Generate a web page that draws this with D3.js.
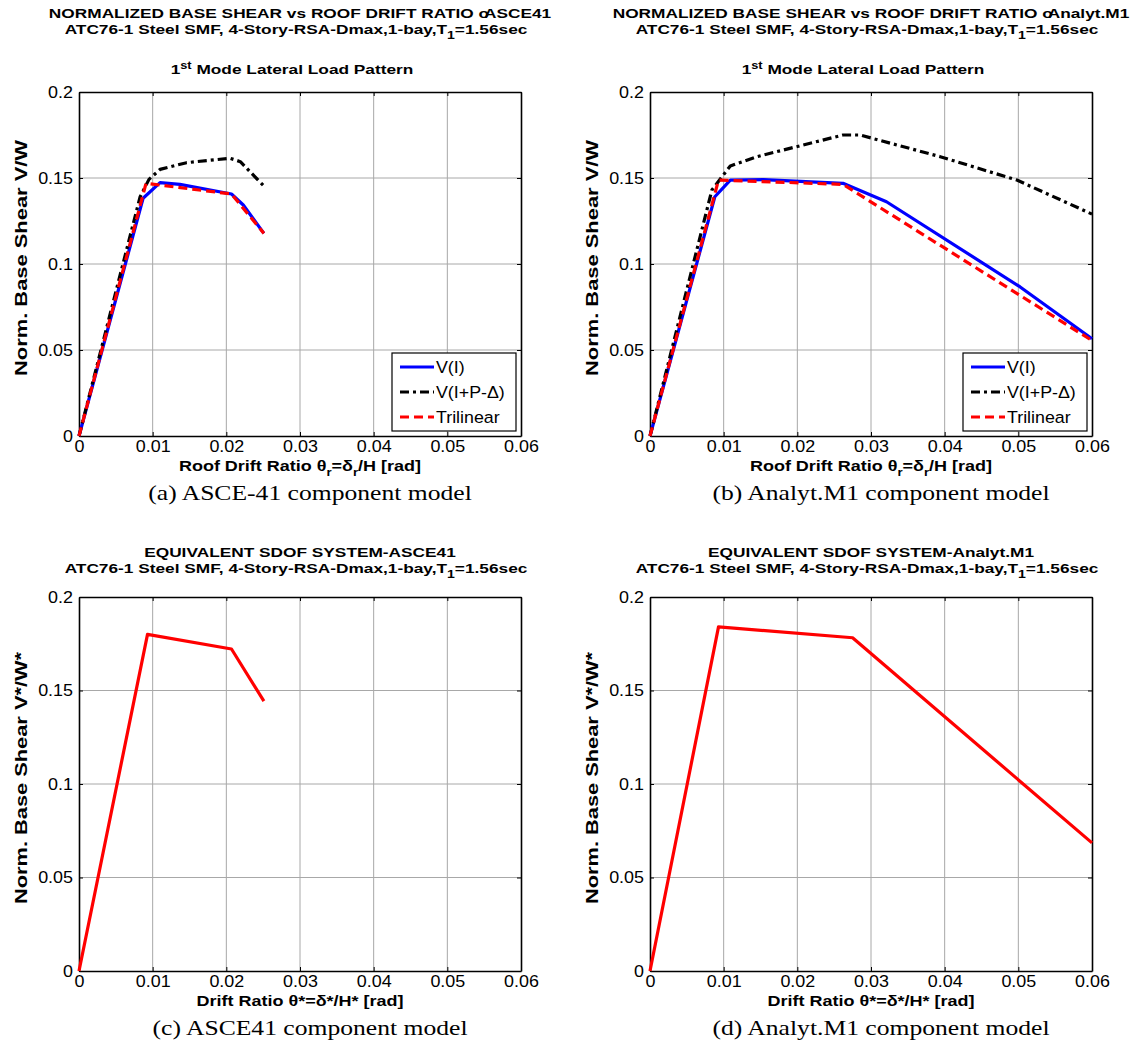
<!DOCTYPE html>
<html><head><meta charset="utf-8">
<script src="https://cdn.jsdelivr.net/npm/d3@7/dist/d3.min.js"></script>
<style>body{margin:0;background:#fff}svg{display:block}</style>
</head><body><svg id="c" width="1137" height="1054"></svg>
<script>
// ---------- DATA ----------
const xTicks = [0, 0.01, 0.02, 0.03, 0.04, 0.05, 0.06];
const yTicks = [0, 0.05, 0.1, 0.15, 0.2];
const xTickLabels = ["0", "0.01", "0.02", "0.03", "0.04", "0.05", "0.06"];
const yTickLabels = ["0", "0.05", "0.1", "0.15", "0.2"];
const legendLabels = ["V(I)", "V(I+P-\u0394)", "Trilinear"];

// (a) ASCE41 pushover
const a_VI_drift   = [0, 0.0087, 0.0110, 0.0137, 0.0207, 0.0223, 0.0251];
const a_VI_shear   = [0, 0.1382, 0.1473, 0.1463, 0.1407, 0.1343, 0.1178];
const a_VPD_drift  = [0, 0.0083, 0.0095, 0.0110, 0.0146, 0.0205, 0.0219, 0.0251];
const a_VPD_shear  = [0, 0.1391, 0.1492, 0.1550, 0.1589, 0.1615, 0.1595, 0.1453];
const a_Tri_drift  = [0, 0.0091, 0.0207, 0.0251];
const a_Tri_shear  = [0, 0.1469, 0.1407, 0.1178];
// (b) Analyt.M1 pushover
const b_VI_drift   = [0, 0.0088, 0.0109, 0.0154, 0.0262, 0.0321, 0.0502, 0.0600];
const b_VI_shear   = [0, 0.1391, 0.1488, 0.1490, 0.1469, 0.1362, 0.0868, 0.0565];
const b_VPD_drift  = [0, 0.0084, 0.0109, 0.0145, 0.0262, 0.0285, 0.0394, 0.0498, 0.0600];
const b_VPD_shear  = [0, 0.1430, 0.1570, 0.1624, 0.1750, 0.1750, 0.1624, 0.1488, 0.1290];
const b_Tri_drift  = [0, 0.0093, 0.0262, 0.0600];
const b_Tri_shear  = [0, 0.1488, 0.1463, 0.0555];
// (c) SDOF ASCE41
const c_drift = [0, 0.0093, 0.0207, 0.0251];
const c_shear = [0, 0.1800, 0.1722, 0.1443];
// (d) SDOF Analyt.M1
const d_drift = [0, 0.0093, 0.0275, 0.0600];
const d_shear = [0, 0.1840, 0.1782, 0.0685];

const zip = (xs, ys) => xs.map((x, i) => [x, ys[i]]);

// ---------- LAYOUT ----------
const svg = d3.select("#c");
const SANS = "'Liberation Sans', Arial, Helvetica, sans-serif";
const SERIF = "'Liberation Serif', 'Times New Roman', serif";

// horizontally stretched text helper
function htext(parent, x, y, opts) {
  const g = parent.append("g").attr("transform", `translate(${x},${y}) scale(${opts.sx || 1},1)`);
  return g.append("text").attr("x", 0).attr("y", 0)
    .attr("text-anchor", opts.anchor || "middle")
    .attr("font-family", opts.family || SANS)
    .attr("font-weight", opts.weight || "normal")
    .attr("font-size", opts.size).attr("fill", "#000");
}

const panels = [
  {x0: 79, x1: 521, y0: 92, y1: 436,
   t1: ["NORMALIZED BASE SHEAR vs ROOF DRIFT RATIO o", "ASCE41"], mode: true,
   ylab: "Norm. Base Shear V/W", xlab: "roof", cap: "(a) ASCE-41 component model", capX: 310,
   series: [
     {d: zip(a_VI_drift, a_VI_shear), color: "#0000ff", dash: null},
     {d: zip(a_VPD_drift, a_VPD_shear), color: "#000000", dash: "9,4,3,4"},
     {d: zip(a_Tri_drift, a_Tri_shear), color: "#ff0000", dash: "9,5"}], legend: true},
  {x0: 650, x1: 1092, y0: 92, y1: 436,
   t1: ["NORMALIZED BASE SHEAR vs ROOF DRIFT RATIO o", "Analyt.M1"], mode: true,
   ylab: "Norm. Base Shear V/W", xlab: "roof", cap: "(b) Analyt.M1 component model", capX: 881,
   series: [
     {d: zip(b_VI_drift, b_VI_shear), color: "#0000ff", dash: null},
     {d: zip(b_VPD_drift, b_VPD_shear), color: "#000000", dash: "9,4,3,4"},
     {d: zip(b_Tri_drift, b_Tri_shear), color: "#ff0000", dash: "9,5"}], legend: true},
  {x0: 79, x1: 521, y0: 597, y1: 971,
   t1: ["EQUIVALENT SDOF SYSTEM-ASCE41"], mode: false,
   ylab: "Norm. Base Shear V*/W*", xlab: "sdof", cap: "(c) ASCE41 component model", capX: 310,
   series: [{d: zip(c_drift, c_shear), color: "#ff0000", dash: null}], legend: false},
  {x0: 650, x1: 1092, y0: 597, y1: 971,
   t1: ["EQUIVALENT SDOF SYSTEM-Analyt.M1"], mode: false,
   ylab: "Norm. Base Shear V*/W*", xlab: "sdof", cap: "(d) Analyt.M1 component model", capX: 881,
   series: [{d: zip(d_drift, d_shear), color: "#ff0000", dash: null}], legend: false}
];

const TSX = 1.28;   // title stretch
const KSX = 1.12;   // tick label stretch

panels.forEach(p => {
  const x = d3.scaleLinear().domain([0, 0.06]).range([p.x0, p.x1]);
  const y = d3.scaleLinear().domain([0, 0.2]).range([p.y1, p.y0]);
  const g = svg.append("g");
  const cx = (p.x0 + p.x1) / 2;

  // grid
  g.selectAll(".gx").data(xTicks.slice(1, -1)).enter().append("line")
    .attr("x1", d => x(d)).attr("x2", d => x(d)).attr("y1", p.y0).attr("y2", p.y1)
    .attr("stroke", "#a8a8a8").attr("stroke-width", 1);
  g.selectAll(".gy").data(yTicks.slice(1, -1)).enter().append("line")
    .attr("y1", d => y(d)).attr("y2", d => y(d)).attr("x1", p.x0).attr("x2", p.x1)
    .attr("stroke", "#a8a8a8").attr("stroke-width", 1);

  // axes
  const fx = d => xTickLabels[xTicks.indexOf(d)];
  const fy = d => yTickLabels[yTicks.indexOf(d)];
  const axB = g.append("g").attr("transform", `translate(0,${p.y1})`)
    .call(d3.axisBottom(x).tickValues(xTicks).tickFormat(fx).tickSizeInner(-4).tickSizeOuter(0).tickPadding(6));
  const axL = g.append("g").attr("transform", `translate(${p.x0},0)`)
    .call(d3.axisLeft(y).tickValues(yTicks).tickFormat(fy).tickSizeInner(-4).tickSizeOuter(0).tickPadding(5));
  const axT = g.append("g").attr("transform", `translate(0,${p.y0})`)
    .call(d3.axisTop(x).tickValues(xTicks).tickFormat("").tickSizeInner(-4).tickSizeOuter(0));
  const axR = g.append("g").attr("transform", `translate(${p.x1},0)`)
    .call(d3.axisRight(y).tickValues(yTicks).tickFormat("").tickSizeInner(-4).tickSizeOuter(0));
  [axB, axL, axT, axR].forEach(a => {
    a.select(".domain").attr("stroke", "#000").attr("stroke-width", 1.6);
    a.selectAll(".tick line").attr("stroke", "#000").attr("stroke-width", 1);
    a.selectAll("text").attr("font-family", SANS).attr("font-size", 16).attr("fill", "#000");
  });
  axB.selectAll("text").attr("dy", "0.62em").attr("transform", `scale(${KSX},1)`);
  axL.selectAll("text").attr("x", -6 / KSX).attr("transform", `scale(${KSX},1)`);

  // series
  const line = d3.line().x(d => x(d[0])).y(d => y(d[1]));
  p.series.forEach(s => {
    g.append("path").attr("d", line(s.d)).attr("fill", "none")
      .attr("stroke", s.color).attr("stroke-width", 3.2)
      .attr("stroke-dasharray", s.dash).attr("stroke-linejoin", "round");
  });

  // legend
  if (p.legend) {
    const lx = p.x1 - 129, ly = 353, lw = 124, lh = 78;
    g.append("rect").attr("x", lx).attr("y", ly).attr("width", lw).attr("height", lh)
      .attr("fill", "#fff").attr("stroke", "#000").attr("stroke-width", 1.2);
    p.series.forEach((s, i) => {
      const yy = ly + 14 + i * 25;
      g.append("line").attr("x1", lx + 8).attr("x2", lx + 42).attr("y1", yy).attr("y2", yy)
        .attr("stroke", s.color).attr("stroke-width", 3.2).attr("stroke-dasharray", s.dash);
      htext(g, lx + 44, yy + 6, {anchor: "start", size: 16.5, sx: 1.08}).text(legendLabels[i]);
    });
  }

  // titles
  const titleTop = p.mode ? 18 : 557;
  const tt = htext(g, cx, titleTop, {size: 13.5, weight: "bold", sx: TSX});
  tt.append("tspan").text(p.t1[0]);
  if (p.t1[1]) tt.append("tspan").attr("dx", -4).text(p.t1[1]);
  const t2 = htext(g, cx - 4, titleTop + 16, {size: 13.5, weight: "bold", sx: TSX});
  t2.append("tspan").text("ATC76-1 Steel SMF, 4-Story-RSA-Dmax,1-bay,T");
  t2.append("tspan").attr("dy", 5).attr("font-size", 11).text("1");
  t2.append("tspan").attr("dy", -5).text("=1.56sec");
  if (p.mode) {
    const t3 = htext(g, cx - 8, 74, {size: 13.5, weight: "bold", sx: TSX});
    t3.append("tspan").text("1");
    t3.append("tspan").attr("dy", -5).attr("font-size", 10).text("st");
    t3.append("tspan").attr("dy", 5).text(" Mode Lateral Load Pattern");
  }

  // y label (vertical, stretched along its length)
  g.append("text").attr("transform", `translate(${p.x0 - 52},${(p.y0 + p.y1) / 2 - 6}) rotate(-90)`)
    .attr("text-anchor", "middle").attr("font-family", SANS).attr("font-weight", "bold")
    .attr("font-size", 16).attr("textLength", p.mode ? 236 : 252)
    .attr("lengthAdjust", "spacingAndGlyphs").text(p.ylab);

  // x label
  const xl = htext(g, cx, p.y1 + 35, {size: 15, weight: "bold", sx: 1.2});
  if (p.xlab === "roof") {
    xl.append("tspan").text("Roof Drift Ratio \u03B8");
    xl.append("tspan").attr("dy", 5).attr("font-size", 11).text("r");
    xl.append("tspan").attr("dy", -5).text("=\u03B4");
    xl.append("tspan").attr("dy", 5).attr("font-size", 11).text("r");
    xl.append("tspan").attr("dy", -5).text("/H [rad]");
  } else {
    xl.text("Drift Ratio \u03B8*=\u03B4*/H* [rad]");
  }

  // caption
  htext(g, p.capX, p.y1 + 64, {size: 21, family: SERIF, sx: 1.22}).text(p.cap);
});
</script></body></html>
